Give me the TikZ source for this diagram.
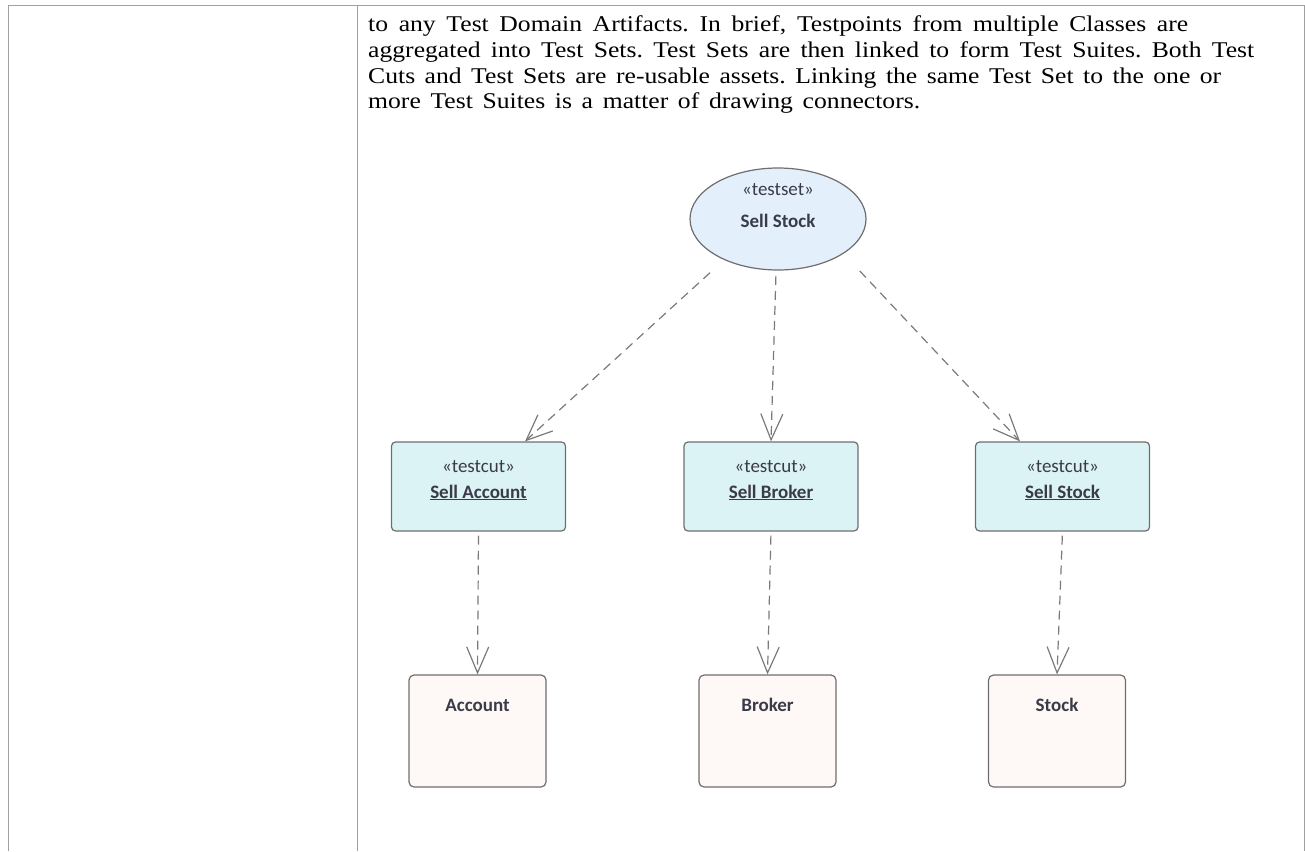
\documentclass[tikz,border=0pt]{standalone}
\usepackage{fontspec}
\setmainfont{Liberation Serif}
\newfontfamily\parafont[FakeStretch=1.14]{Liberation Serif}
\newfontfamily\uml{Carlito}
\usetikzlibrary{arrows.meta,shapes.geometric}
\definecolor{edge}{HTML}{6E6E6E}
\definecolor{conn}{HTML}{7A7A7A}
\definecolor{txt}{HTML}{3A3A48}
\definecolor{setfill}{HTML}{E3F0FC}
\definecolor{cutfill}{HTML}{DBF3F5}
\definecolor{clsfill}{HTML}{FEF9F6}
\definecolor{rule}{HTML}{A0A0A0}
\frenchspacing
\tikzset{
  para/.style={anchor=base west, inner sep=0pt, font=\parafont\fontsize{22.5}{25}\selectfont},
  setnode/.style={ellipse, draw=edge, line width=1.2pt, fill=setfill, minimum width=176pt, minimum height=102pt, inner sep=0pt},
  cutnode/.style={rectangle, rounded corners=4pt, draw=edge, line width=1.2pt, fill=cutfill, minimum width=174pt, minimum height=89pt},
  clsnode/.style={rectangle, rounded corners=5pt, draw=edge, line width=1.2pt, fill=clsfill, minimum width=137pt, minimum height=112pt},
  lbl/.style={inner sep=0pt, text=txt, font=\uml\fontsize{19}{22}\selectfont},
  blbl/.style={lbl, font=\uml\bfseries\fontsize{19}{22}\selectfont},
  dep/.style={draw=conn, line width=1.2pt, dash pattern=on 9pt off 6pt, -{Straight Barb[length=26pt,width=22pt,line width=1.2pt]}, shorten <=4pt},
}
\newcommand{\ul}[1]{\underline{#1}}
\newcommand{\pline}[2]{\makebox[#1][s]{\frenchspacing #2}}
\begin{document}
\begin{tikzpicture}[x=1pt,y=-1pt]
\useasboundingbox (0,0) rectangle (1305,851);
% table rules
\draw[rule, line width=1pt] (8,851) -- (8,6) -- (1304,6) -- (1304,851);
\draw[rule, line width=1pt] (357,6) -- (357,851);
% paragraph
\node[para] (l1) at (368,32) {\pline{820pt}{to any Test Domain Artifacts. In brief, Testpoints from multiple Classes are}};
\node[para] (l2) at (368,57.5) {\pline{886pt}{aggregated into Test Sets. Test Sets are then linked to form Test Suites. Both Test}};
\node[para] (l3) at (368,83) {\pline{853pt}{Cuts and Test Sets are re-usable assets. Linking the same Test Set to the one or}};
\node[para] (l4) at (368,108.5) {\pline{552pt}{more Test Suites is a matter of drawing connectors.}};
% nodes
\node[setnode] (ts) at (778,219) {};
\node[lbl] (tst) at (778,190) {«testset»};
\node[blbl] (tsn) at (778,221) {Sell Stock};

\node[cutnode] (ca) at (478.5,486.5) {};
\node[cutnode] (cb) at (771,486.5) {};
\node[cutnode] (cs) at (1062.5,486.5) {};
\foreach \n/\t in {ca/Sell Account, cb/Sell Broker, cs/Sell Stock}{
  \node[lbl] (\n s) at ([yshift=19.5pt]\n.center) {«testcut»};
  \node[blbl] (\n t) at ([yshift=-6pt]\n.center) {\ul{\t}};
}
\node[clsnode] (a) at (477.5,731) {};
\node[clsnode] (b) at (767.5,731) {};
\node[clsnode] (s) at (1057,731) {};
\node[blbl] (at) at ([yshift=26pt]a.center) {Account};
\node[blbl] (bt) at ([yshift=26pt]b.center) {Broker};
\node[blbl] (st) at ([yshift=26pt]s.center) {Stock};
% connectors
\coordinate (t1) at (713,270);
\coordinate (t2) at (776,272);
\coordinate (t3) at (857,268);
\draw[dep] (t1) -- (ca.north -| 525,0);
\draw[dep] (t2) -- (cb.north);
\draw[dep] (t3) -- (cs.north -| 1020,0);
\draw[dep] (ca.south) -- (a.north);
\draw[dep] (cb.south) -- (b.north);
\draw[dep] (cs.south) -- (s.north);
\end{tikzpicture}
\end{document}
